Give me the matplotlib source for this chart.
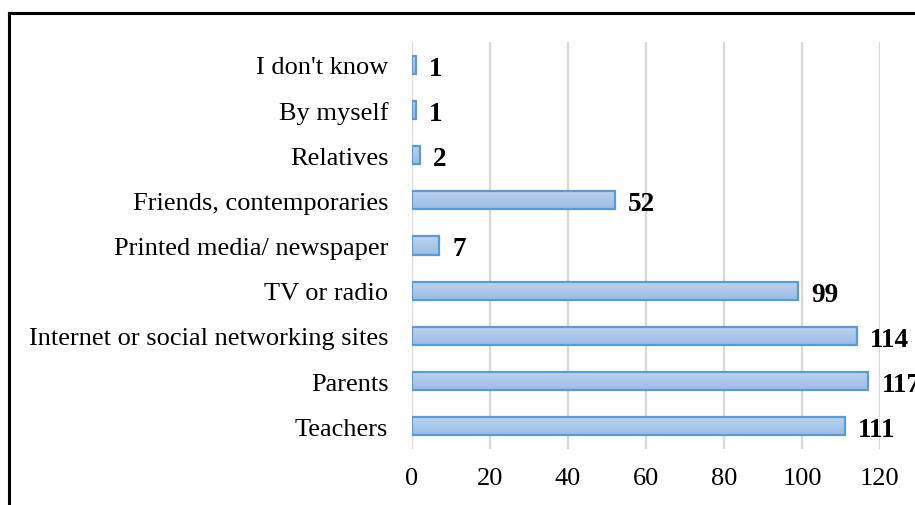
import matplotlib.pyplot as plt
import numpy as np
from matplotlib.lines import Line2D

categories = [
    "Teachers",
    "Parents",
    "Internet or social networking sites",
    "TV or radio",
    "Printed media/ newspaper",
    "Friends, contemporaries",
    "Relatives",
    "By myself",
    "I don't know",
]
counts = [111, 117, 114, 99, 7, 52, 2, 1, 1]
x_ticks = [0, 20, 40, 60, 80, 100, 120]

plt.rcParams["font.family"] = ["Liberation Serif", "DejaVu Serif"]

fig = plt.figure(figsize=(9.15, 5.06), dpi=100)
ax = fig.add_axes([0.4503, 0.1107, 0.5114, 0.8043])

pos = np.arange(len(categories))
bars = ax.barh(pos, counts, height=0.4, color="#a9c6ea", edgecolor="none",
               zorder=3)

# vertical gradient inside each bar, lighter at the top
grad = np.linspace(0, 1, 64).reshape(-1, 1)
cmap = plt.matplotlib.colors.LinearSegmentedColormap.from_list(
    "barfill", ["#9cbde6", "#bcd3ee"])
for b in bars:
    x0, y0 = b.get_x(), b.get_y()
    w, h = b.get_width(), b.get_height()
    im = ax.imshow(grad, cmap=cmap, aspect="auto", origin="lower",
                   extent=(x0, x0 + w, y0, y0 + h), zorder=3.5)
    im.set_clip_path(b)

# outlines on top of the gradient
ax.barh(pos, counts, height=0.4, facecolor="none", edgecolor="#5b9bd5",
        linewidth=1.6, zorder=4)

for y, v in zip(pos, counts):
    ax.annotate(str(v), xy=(v, y), xytext=(9.5, -2.5), textcoords="offset points",
                ha="left", va="center", fontsize=19.5, fontweight="bold",
                annotation_clip=False)

ax.set_xlim(0, 120)
ax.set_ylim(-0.5, len(categories) - 0.5)
ax.set_xticks(x_ticks)
ax.set_yticks(pos)
ax.set_yticklabels(categories)
ax.tick_params(axis="x", length=0, pad=13, labelsize=19)
ax.tick_params(axis="y", length=0, pad=17, labelsize=19)
for t in ax.get_yticklabels():
    t.set_y(t.get_position()[1])
    t.set_va("center_baseline")
ax.xaxis.grid(True, color="#d9d9d9", linewidth=1.6, zorder=0)
ax.set_axisbelow(True)
for s in ax.spines.values():
    s.set_visible(False)

# outer frame: top and left edges
fig.add_artist(Line2D([0.0093, 0.999], [0.9723, 0.9723], color="black",
                      linewidth=2.2, transform=fig.transFigure))
fig.add_artist(Line2D([0.0093, 0.0093], [0.9723, 0.0], color="black",
                      linewidth=2.2, transform=fig.transFigure))

fig.savefig("out.png", dpi=100)
